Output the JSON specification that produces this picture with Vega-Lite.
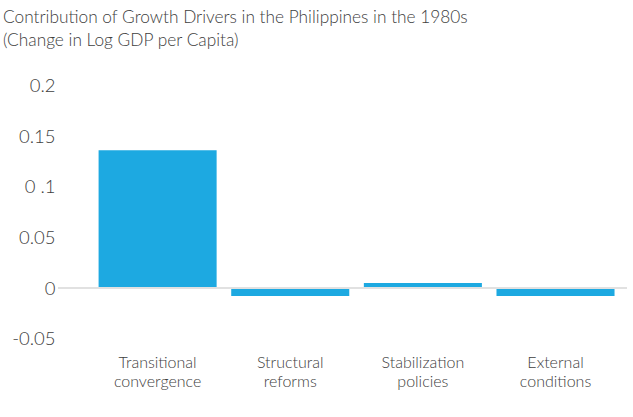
{
  "$schema": "https://vega.github.io/schema/vega-lite/v6.json",
  "width": 569,
  "height": 253,
  "autosize": {"type": "none"},
  "padding": {"left": 58, "top": 85.6, "right": 6, "bottom": 78.4},
  "background": "white",
  "config": {
    "view": {"stroke": null},
    "font": "Lato"
  },
  "title": {
    "text": ["Contribution of Growth Drivers in the Philippines in the 1980s", "(Change in Log GDP per Capita)"],
    "anchor": "start",
    "frame": "group",
    "dx": -55,
    "offset": 27,
    "font": "Lato",
    "fontSize": 17.3,
    "fontWeight": 300,
    "color": "#404040",
    "lineHeight": 23.5
  },
  "layer": [
    {
      "data": {
        "values": [
          {"driver": "Transitional convergence", "value": 0.136},
          {"driver": "Structural reforms", "value": -0.008},
          {"driver": "Stabilization policies", "value": 0.005},
          {"driver": "External conditions", "value": -0.008}
        ]
      },
      "mark": {"type": "bar", "color": "#1DA9E1"},
      "encoding": {
        "x": {
          "field": "driver",
          "type": "nominal",
          "sort": null,
          "scale": {"paddingInner": 0.11, "paddingOuter": 0.2, "align": 0.765},
          "axis": {
            "title": null,
            "domain": false,
            "ticks": false,
            "labelAngle": 0,
            "labelPadding": 16,
            "labelFont": "Lato",
            "labelFontWeight": 300,
            "labelFontSize": 16,
            "labelColor": "#404040",
            "labelLineHeight": 19,
            "labelExpr": "split(datum.label, ' ')"
          }
        },
        "y": {
          "field": "value",
          "type": "quantitative",
          "scale": {"domain": [-0.05, 0.2], "nice": false},
          "axis": {
            "title": null,
            "domain": false,
            "ticks": false,
            "grid": false,
            "values": [-0.05, 0, 0.05, 0.1, 0.15, 0.2],
            "labelExpr": "datum.value == 0.1 ? '0 .1' : '' + datum.value",
            "labelPadding": 3,
            "labelFont": "Lato",
            "labelFontWeight": 300,
            "labelFontSize": 18.5,
            "labelColor": "#404040"
          }
        }
      }
    },
    {
      "data": {"values": [{"zero": 0}]},
      "mark": {"type": "rule", "color": "#e1e1e1", "strokeWidth": 2},
      "encoding": {
        "y": {"field": "zero", "type": "quantitative"}
      }
    }
  ]
}
